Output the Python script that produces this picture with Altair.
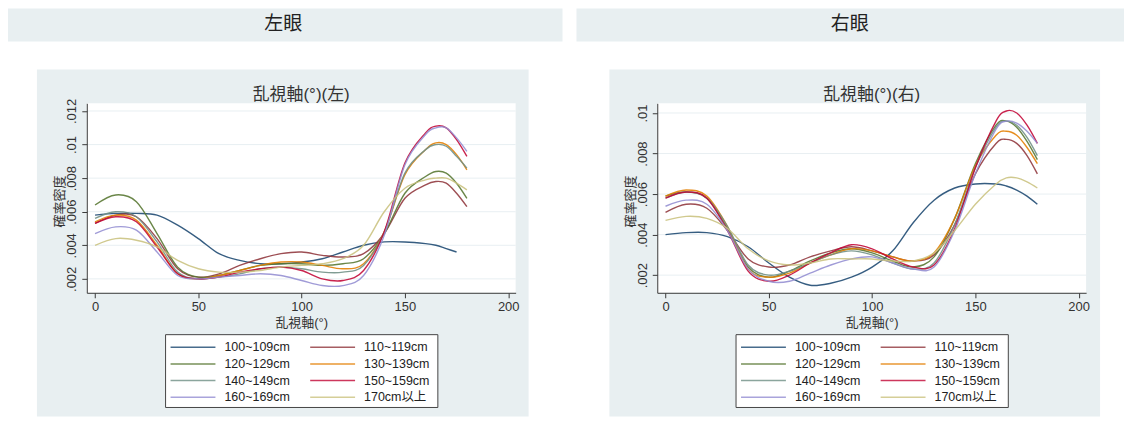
import altair as alt
import pandas as pd

# ---------------- data ----------------
GROUPS = ["100~109cm", "110~119cm", "120~129cm", "130~139cm",
          "140~149cm", "150~159cm", "160~169cm", "170cm以上"]
COLORS = ["#1a476f", "#90353b", "#55752f", "#e37e00",
          "#6e8e84", "#c10534", "#938dd2", "#cac27e"]
ANGLES = [0, 10, 20, 30, 40, 50, 60, 70, 80, 90, 100, 110, 120, 130, 140,
          150, 160, 165, 170, 175, 180]

# left eye
L_100 = [0.0058, 0.0059, 0.0059, 0.0058, 0.0052, 0.0044, 0.0035, 0.0031, 0.0029, 0.0029, 0.0030,
         0.0032, 0.0036, 0.0040, 0.0042, 0.0042, 0.0041, 0.0040, 0.0038, 0.0036, None]
L_110 = [0.0053, 0.0058, 0.0057, 0.0044, 0.0026, 0.0021, 0.0023, 0.0028, 0.0032, 0.0035, 0.0036,
         0.0034, 0.0033, 0.0035, 0.0047, 0.0068, 0.0076, 0.0078, 0.0077, 0.0071, 0.0063]
L_120 = [0.0064, 0.0070, 0.0066, 0.0047, 0.0027, 0.0021, 0.0022, 0.0025, 0.0028, 0.0029, 0.0029,
         0.0028, 0.0029, 0.0032, 0.0047, 0.0071, 0.0081, 0.0084, 0.0083, 0.0077, 0.0068]
L_130 = [0.0054, 0.0058, 0.0055, 0.0040, 0.0023, 0.0020, 0.0022, 0.0025, 0.0028, 0.0030, 0.0030,
         0.0028, 0.0026, 0.0029, 0.0048, 0.0082, 0.0097, 0.0101, 0.0100, 0.0094, 0.0085]
L_140 = [0.0056, 0.0060, 0.0057, 0.0042, 0.0024, 0.0020, 0.0021, 0.0023, 0.0026, 0.0027, 0.0026,
         0.0024, 0.0024, 0.0028, 0.0048, 0.0083, 0.0097, 0.0100, 0.0099, 0.0093, 0.0086]
L_150 = [0.0053, 0.0057, 0.0054, 0.0039, 0.0023, 0.0020, 0.0021, 0.0024, 0.0026, 0.0027, 0.0025,
         0.0020, 0.0019, 0.0025, 0.0048, 0.0089, 0.0107, 0.0111, 0.0110, 0.0103, 0.0093]
L_160 = [0.0047, 0.0051, 0.0049, 0.0036, 0.0022, 0.0020, 0.0021, 0.0022, 0.0023, 0.0022, 0.0019,
         0.0016, 0.0016, 0.0022, 0.0046, 0.0088, 0.0106, 0.0110, 0.0110, 0.0104, 0.0096]
L_170 = [0.0040, 0.0044, 0.0043, 0.0039, 0.0031, 0.0026, 0.0024, 0.0024, 0.0025, 0.0027, 0.0028,
         0.0029, 0.0032, 0.0040, 0.0060, 0.0074, 0.0079, 0.0080, 0.0080, 0.0077, 0.0073]

# right eye
R_100 = [0.0040, 0.0041, 0.0041, 0.0039, 0.0034, 0.0026, 0.0019, 0.0015, 0.0016, 0.0019, 0.0024,
         0.0032, 0.0046, 0.0057, 0.0063, 0.0065, 0.0065, 0.0064, 0.0062, 0.0059, 0.0055]
R_110 = [0.0051, 0.0055, 0.0053, 0.0042, 0.0028, 0.0024, 0.0025, 0.0029, 0.0032, 0.0034, 0.0032,
         0.0029, 0.0027, 0.0030, 0.0045, 0.0070, 0.0085, 0.0087, 0.0085, 0.0079, 0.0070]
R_120 = [0.0059, 0.0061, 0.0058, 0.0043, 0.0024, 0.0019, 0.0022, 0.0027, 0.0031, 0.0033, 0.0031,
         0.0027, 0.0024, 0.0029, 0.0048, 0.0075, 0.0094, 0.0096, 0.0093, 0.0086, 0.0077]
R_130 = [0.0059, 0.0062, 0.0059, 0.0044, 0.0023, 0.0019, 0.0021, 0.0026, 0.0030, 0.0033, 0.0032,
         0.0029, 0.0027, 0.0031, 0.0048, 0.0074, 0.0089, 0.0091, 0.0089, 0.0083, 0.0075]
R_140 = [0.0058, 0.0061, 0.0058, 0.0044, 0.0025, 0.0020, 0.0022, 0.0026, 0.0030, 0.0032, 0.0030,
         0.0026, 0.0023, 0.0026, 0.0045, 0.0073, 0.0093, 0.0096, 0.0094, 0.0088, 0.0079]
R_150 = [0.0058, 0.0061, 0.0058, 0.0042, 0.0022, 0.0017, 0.0020, 0.0026, 0.0031, 0.0035, 0.0033,
         0.0028, 0.0024, 0.0025, 0.0043, 0.0073, 0.0096, 0.0101, 0.0100, 0.0094, 0.0085]
R_160 = [0.0054, 0.0057, 0.0055, 0.0042, 0.0023, 0.0017, 0.0017, 0.0021, 0.0025, 0.0028, 0.0029,
         0.0026, 0.0023, 0.0024, 0.0042, 0.0070, 0.0092, 0.0096, 0.0095, 0.0091, 0.0085]
R_170 = [0.0047, 0.0049, 0.0048, 0.0043, 0.0033, 0.0027, 0.0025, 0.0026, 0.0028, 0.0028, 0.0028,
         0.0027, 0.0027, 0.0031, 0.0042, 0.0055, 0.0065, 0.0068, 0.0068, 0.0066, 0.0063]

LEFT_SERIES = [L_100, L_110, L_120, L_130, L_140, L_150, L_160, L_170]
RIGHT_SERIES = [R_100, R_110, R_120, R_130, R_140, R_150, R_160, R_170]

X_TICKS = [0, 50, 100, 150, 200]
L_Y_TICKS = [0.002, 0.004, 0.006, 0.008, 0.010, 0.012]
R_Y_TICKS = [0.002, 0.004, 0.006, 0.008, 0.010]

# ---------------- style ----------------
FONT = "Liberation Sans, Arial, Noto Sans CJK JP, sans-serif"
CJK = "Noto Sans CJK JP, sans-serif"
BG = "#e8eff1"
GRID = "#e8eff2"
AXIS_C = "#3a3a3a"
TEXT_C = "#333333"
PW, PH = 430, 190

one = pd.DataFrame({"k": [0]})


def long_df(series):
    rows = []
    for g, vals in zip(GROUPS, series):
        for a, v in zip(ANGLES, vals):
            if v is not None:
                rows.append({"angle": a, "density": v, "group": g})
    return pd.DataFrame(rows)


def deco_rect(x1, x2, y1, y2, **kw):
    return alt.Chart(one).mark_rect(**kw).encode(
        x=alt.value(x1), x2=alt.value(x2), y=alt.value(y1), y2=alt.value(y2))


def deco_text(x, y, txt, **kw):
    return alt.Chart(one).mark_text(**kw).encode(
        x=alt.value(x), y=alt.value(y), text=alt.value(txt))


def panel(series, ydomain, yticks, header, title, hx1, hx2, htx, gx1, gx2):
    xscale = alt.Scale(domain=[-4, 203.6], nice=False, zero=False)
    yscale = alt.Scale(domain=ydomain, nice=False, zero=False)
    xaxis = alt.Axis(values=X_TICKS, title="乱視軸(°)", grid=False,
                     domainColor=AXIS_C, tickColor=AXIS_C, tickSize=5,
                     labelFont=FONT, labelFontSize=13, labelColor=TEXT_C,
                     labelPadding=3, labelFlush=False, labelOverlap=False,
                     titleFont=FONT, titleFontSize=13, titleColor=TEXT_C,
                     titleFontWeight="normal", titleY=24, titleBaseline="top",
                     zindex=1)
    yaxis = alt.Axis(values=yticks, title="確率密度", grid=False,
                     format=".3~f", labelExpr="replace(datum.label, '0.', '.')",
                     domainColor=AXIS_C, tickColor=AXIS_C, tickSize=5,
                     labelFont=FONT, labelFontSize=13, labelColor=TEXT_C,
                     labelAngle=270, labelAlign="center", labelBaseline="alphabetic",
                     labelPadding=6, labelFlush=False, labelOverlap=False,
                     titleFont=FONT, titleFontSize=13, titleColor=TEXT_C,
                     titleFontWeight="normal", titleAngle=270, titleAlign="center",
                     titleBaseline="middle", titleX=-27, titleY=98, zindex=1)

    layers = [
        deco_rect(gx1, gx2, -34, 314, color=BG),
        deco_rect(hx1, hx2, -95, -62, color=BG),
        deco_text(htx, -79, header, font=CJK, fontSize=19, color="#222222",
                  align="center", baseline="middle"),
        deco_rect(0, PW, 0, PH, color="white"),
    ]
    grid = alt.Chart(pd.DataFrame({"t": yticks})).mark_rule(
        color=GRID, strokeWidth=1).encode(
        y=alt.Y("t:Q", scale=yscale, axis=yaxis),
        x=alt.value(0), x2=alt.value(PW))
    lines = alt.Chart(long_df(series)).mark_line(
        interpolate="cardinal", tension=0, strokeWidth=1.4, opacity=0.88).encode(
        x=alt.X("angle:Q", scale=xscale, axis=xaxis),
        y=alt.Y("density:Q", scale=yscale, axis=yaxis),
        color=alt.Color("group:N", scale=alt.Scale(domain=GROUPS, range=COLORS),
                        legend=None))
    layers += [grid, lines]
    layers.append(deco_text(PW / 2, -8, title, font=FONT, fontSize=17,
                            color=TEXT_C, align="center", baseline="middle"))
    # legend
    layers.append(deco_rect(79, 352, 232, 305, fill="white", stroke="#444444",
                            strokeWidth=1))
    row_y = [244.7, 261.3, 278.0, 294.7]
    col_x = [84, 224]
    for i, (g, c) in enumerate(zip(GROUPS, COLORS)):
        cx = col_x[i % 2]
        ry = row_y[i // 2]
        layers.append(alt.Chart(one).mark_rule(color=c, strokeWidth=1.5,
                                               opacity=0.8).encode(
            x=alt.value(cx), x2=alt.value(cx + 45), y=alt.value(ry)))
        layers.append(deco_text(cx + 54, ry, g, font=FONT, fontSize=12.5,
                                color="#222222", align="left", baseline="middle"))
    return alt.layer(*layers).properties(width=PW, height=PH)


left = panel(LEFT_SERIES, [0.00117, 0.01246], L_Y_TICKS, "左眼", "乱視軸(°)(左)",
             -79, 477, 197, -50, 443)
right = panel(RIGHT_SERIES, [0.00113, 0.01048], R_Y_TICKS, "右眼", "乱視軸(°)(右)",
              -81, 468, 193, -48, 444)

chart = alt.hconcat(left, right, spacing=142, bounds="flush", padding=0).configure_view(
    stroke=None)

chart.save("out.html", embed_options={"renderer": "svg", "actions": False})
